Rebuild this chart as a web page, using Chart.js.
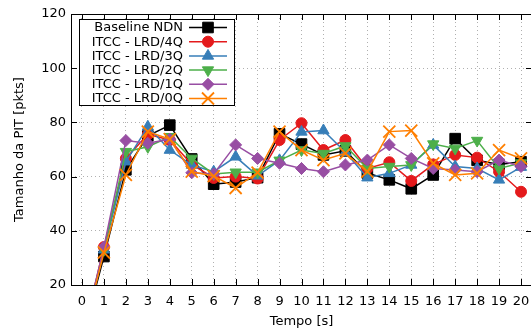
<!DOCTYPE html>
<html>
<head>
<meta charset="utf-8">
<script src="https://cdn.jsdelivr.net/npm/chart.js@4.4.1/dist/chart.umd.min.js"></script>
<style>
html,body{margin:0;padding:0;background:#fff;overflow:hidden;width:531px;height:331px;}
#wrap{position:absolute;left:0;top:0;width:545px;height:331px;}
</style>
</head>
<body>
<div id="wrap"><canvas id="c" width="545" height="331"></canvas></div>
<script>
const xTicks = [0,1,2,3,4,5,6,7,8,9,10,11,12,13,14,15,16,17,18,19,20];
const yTicks = [20,40,60,80,100,120];
const times = [0,1,2,3,4,5,6,7,8,9,10,11,12,13,14,15,16,17,18,19,20];

const baselineNDN = [0,30.5,62.5,75,79,66.5,57.2,58,59.6,75.8,72,68,69.5,61.3,58.8,55.5,60.6,74,66,64.5,65.5];
const lrd4Q = [0,34,66.7,75.6,73.5,64.5,59.5,60,59.3,73.5,79.7,69.8,73.5,63,65.3,58.4,64.5,68,67,61.8,54.4];
const lrd3Q = [0,33,65.5,78.4,69.8,64.3,61.8,67.3,60.3,66,76.5,77,69,59.6,61.2,64.3,71.7,63.7,63,58.8,63.5];
const lrd2Q = [0,33,69.2,71,74.7,66.7,61,61.6,61.6,66,69.8,68.5,71.3,63,63.7,64.3,72,70.4,73.3,63,65];
const lrd1Q = [0,34,73.3,72.3,73.8,61.4,61,71.7,66.7,64.9,63,61.8,64.3,66.1,71.7,66.7,63,62.4,61.8,66.1,63.7];
const lrd0Q = [0,32,60.6,76.6,73.8,61.8,60.2,55.8,61.5,76.6,69.8,66.1,68.6,61.8,76.6,77,64.9,60.6,61.2,69.8,66.7];

const seriesNames = ['Baseline NDN','ITCC - LRD/4Q','ITCC - LRD/3Q','ITCC - LRD/2Q','ITCC - LRD/1Q','ITCC - LRD/0Q'];
const seriesValues = [baselineNDN, lrd4Q, lrd3Q, lrd2Q, lrd1Q, lrd0Q];
const colors = ['#000000','#e41a1c','#377eb8','#4daf4a','#984ea3','#ff7f00'];
const styles = ['rect','circle','triangle','triangle','rectRot','crossRot'];
const rotations = [0,0,0,180,0,0];
const radii = [7.5,5.5,6.5,6.5,6,8.5];

const datasets = seriesNames.map((name,i)=>({
  label: name,
  data: times.map((t,j)=>({x:t,y:seriesValues[i][j]})),
  borderColor: colors[i],
  backgroundColor: colors[i],
  borderWidth: 1.5,
  pointStyle: styles[i],
  pointRotation: rotations[i],
  pointRadius: radii[i],
  pointBorderWidth: i===5 ? 1.8 : 1,
  pointHoverRadius: radii[i],
  tension: 0,
  order: 6-i
}));

const FONT = 'DejaVu Sans';

const ticksPlugin = {
  id:'inTicks',
  afterDatasetsDraw(chart){
    const ctx = chart.ctx, a = chart.chartArea;
    const xs = chart.scales.x, ys = chart.scales.y;
    ctx.save();
    ctx.strokeStyle='#000'; ctx.lineWidth=1;
    ctx.strokeRect(Math.round(a.left)+0.5, Math.round(a.top)+0.5, Math.round(a.right-a.left), Math.round(a.bottom-a.top));
    ctx.beginPath();
    xTicks.forEach(v=>{
      const px = Math.round(xs.getPixelForValue(v))+0.5;
      ctx.moveTo(px,a.bottom); ctx.lineTo(px,a.bottom-6);
      ctx.moveTo(px,a.top); ctx.lineTo(px,a.top+6);
    });
    yTicks.forEach(v=>{
      const py = Math.round(ys.getPixelForValue(v))+0.5;
      ctx.moveTo(a.left,py); ctx.lineTo(a.left+6,py);
      ctx.moveTo(a.right,py); ctx.lineTo(a.right-6,py);
    });
    ctx.stroke();
    // legend
    const bx=79.5, by=19.5, bw=155, bh=86;
    ctx.fillStyle='#fff'; ctx.fillRect(bx,by,bw,bh);
    ctx.strokeStyle='#000'; ctx.lineWidth=1; ctx.strokeRect(bx,by,bw,bh);
    ctx.font = '13px "'+FONT+'"';
    ctx.textAlign='right'; ctx.textBaseline='middle';
    chart.data.datasets.forEach((ds,i)=>{
      const cy = 27.5 + i*14.2;
      ctx.fillStyle='#000';
      ctx.fillText(ds.label, 183, cy+0.5);
      ctx.strokeStyle=ds.borderColor; ctx.lineWidth=1.5;
      ctx.beginPath(); ctx.moveTo(189,cy); ctx.lineTo(227,cy); ctx.stroke();
      ctx.fillStyle=ds.backgroundColor;
      ctx.lineWidth=ds.pointBorderWidth;
      Chart.helpers.drawPoint(ctx,{pointStyle:ds.pointStyle,rotation:ds.pointRotation,radius:ds.pointRadius,borderWidth:ds.pointBorderWidth},208,cy);
    });
    ctx.restore();
  }
};

new Chart(document.getElementById('c'),{
  type:'line',
  data:{datasets},
  options:{
    responsive:false,
    animation:false,
    devicePixelRatio:1,
    layout:{padding:{top:14,right:13,left:0,bottom:0}},
    plugins:{legend:{display:false},tooltip:{enabled:false}},
    scales:{
      x:{
        type:'linear', min:-0.5, max:20.5,
        afterBuildTicks(s){ s.ticks = xTicks.map(v=>({value:v})); },
        afterFit(s){ s.height = 46; },
        grid:{color:'#b0b0b0', lineWidth:1, drawTicks:false},
        border:{display:false, dash:[1,3]},
        ticks:{color:'#000', font:{family:FONT,size:13}, padding:9, maxRotation:0, autoSkip:false, callback:v=>String(v)},
        title:{display:true,text:'Tempo [s]',color:'#000',font:{family:FONT,size:13},padding:{top:0,bottom:2}}
      },
      y:{
        min:20,max:120,
        afterBuildTicks(s){ s.ticks = yTicks.map(v=>({value:v})); },
        afterFit(s){ s.width = 71; },
        grid:{color:'#b0b0b0', lineWidth:1, drawTicks:false},
        border:{display:false, dash:[1,3]},
        ticks:{color:'#000', font:{family:FONT,size:13}, padding:5, callback:v=>String(v)},
        title:{display:true,text:'Tamanho da PIT [pkts]',color:'#000',font:{family:FONT,size:13},padding:{top:12,bottom:0}}
      }
    }
  },
  plugins:[ticksPlugin]
});
</script>
</body>
</html>
